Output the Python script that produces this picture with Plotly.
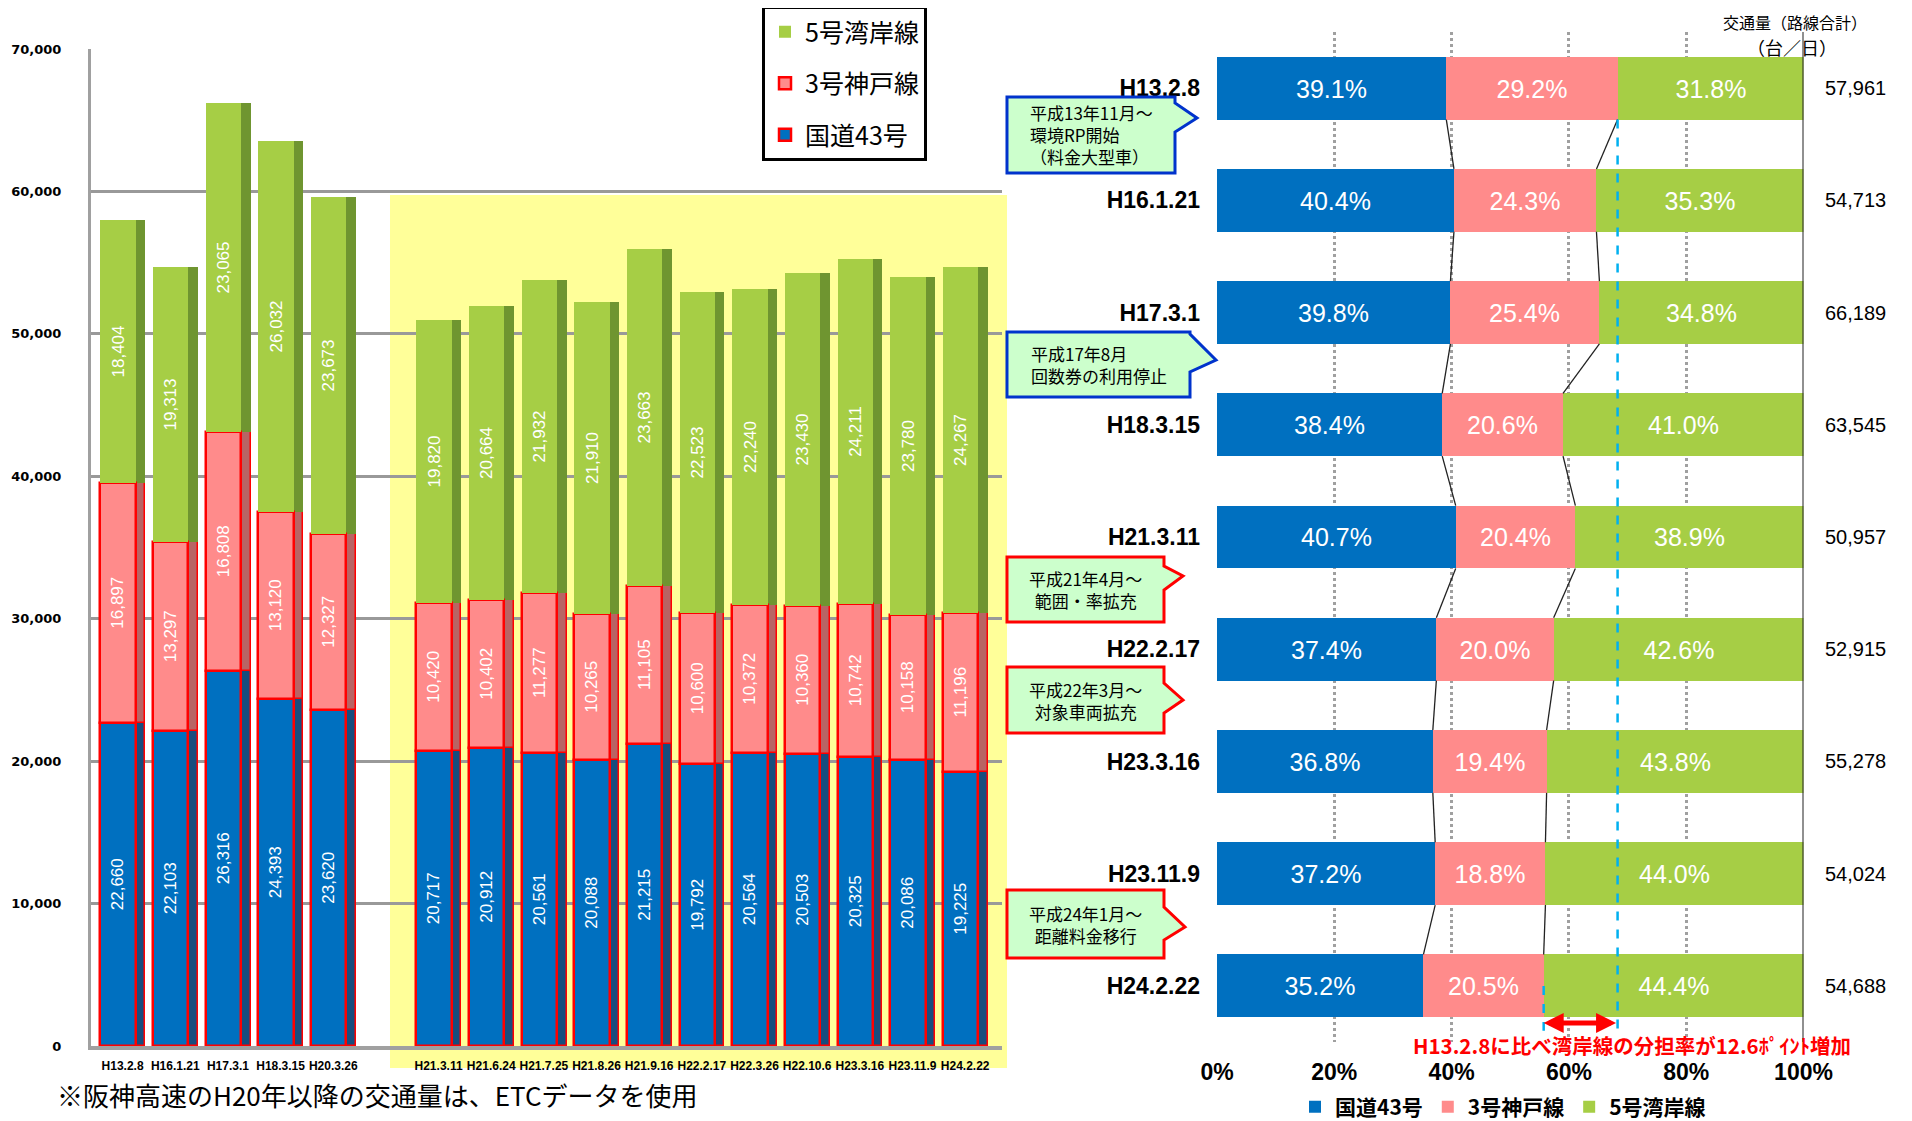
import numpy as np
import plotly.graph_objects as go

# page offset: the browser page has an 8px body margin
OFF = 8
W, H = 1904, 1112
def PX(x): return (x - OFF) / W
def PY(y): return 1 - (y - OFF) / H

# ---------------- data: left chart (台/日) ----------------
dates_left = ["H13.2.8", "H16.1.21", "H17.3.1", "H18.3.15", "H20.3.26",
              "H21.3.11", "H21.6.24", "H21.7.25", "H21.8.26", "H21.9.16",
              "H22.2.17", "H22.3.26", "H22.10.6", "H23.3.16", "H23.11.9", "H24.2.22"]
route43 = [22660, 22103, 26316, 24393, 23620,
           20717, 20912, 20561, 20088, 21215, 19792, 20564, 20503, 20325, 20086, 19225]
kobe3 = [16897, 13297, 16808, 13120, 12327,
         10420, 10402, 11277, 10265, 11105, 10600, 10372, 10360, 10742, 10158, 11196]
wangan5 = [18404, 19313, 23065, 26032, 23673,
           19820, 20664, 21932, 21910, 23663, 22523, 22240, 23430, 24211, 23780, 24267]
y_ticks_left = [0, 10000, 20000, 30000, 40000, 50000, 60000, 70000]

# ---------------- data: right chart (分担率 %) ----------------
dates_right = ["H13.2.8", "H16.1.21", "H17.3.1", "H18.3.15", "H21.3.11",
               "H22.2.17", "H23.3.16", "H23.11.9", "H24.2.22"]
share43 = [39.1, 40.4, 39.8, 38.4, 40.7, 37.4, 36.8, 37.2, 35.2]
share3 = [29.2, 24.3, 25.4, 20.6, 20.4, 20.0, 19.4, 18.8, 20.5]
share5 = [31.8, 35.3, 34.8, 41.0, 38.9, 42.6, 43.8, 44.0, 44.4]
totals = [57961, 54713, 66189, 63545, 50957, 52915, 55278, 54024, 54688]
x_ticks_right = [0, 20, 40, 60, 80, 100]

names = ["国道43号", "3号神戸線", "5号湾岸線"]
c_blue, c_pink, c_green = "#0070C0", "#FF8B8B", "#A6CE45"
s_blue, s_pink, s_green = "#174D7E", "#B86464", "#6F9530"

fig = go.Figure()

# ---------------- left chart ----------------
n_pre = 5  # surveys before ETC data (H20 and earlier)
slots = [i + (1 if i >= n_pre else 0) for i in range(len(dates_left))]
lv = [np.array(route43), np.array(kobe3), np.array(wangan5)]
lbase = [np.zeros(len(route43)), lv[0], lv[0] + lv[1]]
lcols = [(c_blue, s_blue, "red"), (c_pink, s_pink, "red"), (c_green, s_green, None)]
narrow = "Liberation Sans Narrow, Arial Narrow, Liberation Sans, Arial"

for k in range(3):
    col, side, lc = lcols[k]
    fig.add_trace(go.Bar(
        x=slots, y=lv[k], base=lbase[k], offset=0.25, width=0.18,
        marker=dict(color=side, line=dict(color=lc or side, width=1.5 if lc else 0)),
        showlegend=False, hoverinfo="skip", xaxis="x", yaxis="y"))
for k in range(3):
    col, side, lc = lcols[k]
    fig.add_trace(go.Bar(
        x=slots, y=lv[k], base=lbase[k], offset=-0.42, width=0.67,
        name=names[k], legend="legend", legendgroup="L%d" % k, legendrank=3 - k,
        marker=dict(color=col, line=dict(color=lc or col, width=2.5 if lc else 0)),
        text=[f"{v:,}" for v in lv[k]], textposition="inside", insidetextanchor="middle",
        textangle=-90, constraintext="none",
        textfont=dict(color="white", size=17, family=narrow),
        xaxis="x", yaxis="y"))

# ---------------- right chart ----------------
rows = list(range(len(dates_right)))
rv = [np.array(share43), np.array(share3), np.array(share5)]
cum1 = rv[0]
cum2 = rv[0] + rv[1]
rbase = [np.zeros(len(rows)), cum1, cum2]
rcols = [c_blue, c_pink, c_green]
bw = 0.56
for k in range(3):
    fig.add_trace(go.Bar(
        y=rows, x=rv[k], base=rbase[k], orientation="h", width=bw,
        name=names[k], legend="legend2",
        marker=dict(color=rcols[k], line=dict(width=0)),
        text=[f"{v:.1f}%" for v in rv[k]], textposition="inside", insidetextanchor="middle",
        constraintext="none",
        textfont=dict(color="white", size=25, family="Liberation Sans, Arial"),
        xaxis="x2", yaxis="y2"))

# series lines between bars
for cum in (cum1, cum2):
    xs, ys = [], []
    for i in range(len(rows) - 1):
        xs += [cum[i], cum[i + 1], None]
        ys += [i + bw / 2, i + 1 - bw / 2, None]
    fig.add_trace(go.Scatter(x=xs, y=ys, mode="lines", line=dict(color="#222", width=1.3),
                             showlegend=False, hoverinfo="skip", xaxis="x2", yaxis="y2"))

# cyan dashed reference lines
last = len(rows) - 1
fig.add_trace(go.Scatter(x=[cum2[0], cum2[0]], y=[bw / 2, last + 0.4], mode="lines",
                         line=dict(color="#00B0F0", width=2.5, dash="dash"),
                         showlegend=False, hoverinfo="skip", xaxis="x2", yaxis="y2"))
fig.add_trace(go.Scatter(x=[cum2[last], cum2[last]], y=[last, last + 0.4], mode="lines",
                         line=dict(color="#00B0F0", width=2.5, dash="dash"),
                         showlegend=False, hoverinfo="skip", xaxis="x2", yaxis="y2"))

# ---------------- shapes ----------------
shapes = []
# yellow ETC region
shapes.append(dict(type="rect", xref="paper", yref="paper",
                   x0=PX(390), x1=PX(1007), y0=PY(1068), y1=PY(195),
                   fillcolor="#FFFF99", line=dict(width=0), layer="below"))
# 100% line
shapes.append(dict(type="line", xref="x2", yref="y2", x0=100, x1=100, y0=-0.5, y1=last + 0.5,
                   line=dict(color="#222", width=2)))

def callout(x0, y0, x1, y1, wa, tip, wb, color):
    pts = [(x0, y0), (x1, y0), (x1, wa), tip, (x1, wb), (x1, y1), (x0, y1)]
    path = "M " + " L ".join(f"{PX(a):.5f},{PY(b):.5f}" for a, b in pts) + " Z"
    return dict(type="path", xref="paper", yref="paper", path=path,
                fillcolor="#CCFFCC", line=dict(color=color, width=3))

callouts = [
    (1007, 97, 1175, 173, 103, (1197, 118), 132, "#0033CC", "平成13年11月～<br>環境RP開始<br>（料金大型車）", "left"),
    (1007, 332, 1190, 397, 334, (1216, 360), 372, "#0033CC", "平成17年8月<br>回数券の利用停止", "left"),
    (1007, 557, 1164, 622, 566, (1183, 576), 590, "red", "平成21年4月～<br>範囲・率拡充", "center"),
    (1007, 667, 1164, 733, 683, (1183, 700), 713, "red", "平成22年3月～<br>対象車両拡充", "center"),
    (1007, 890, 1164, 958, 907, (1185, 927), 940, "red", "平成24年1月～<br>距離料金移行", "center"),
]
annotations = []
jp = "Noto Sans CJK JP, Noto Sans, sans-serif"
for (x0, y0, x1, y1, wa, tip, wb, col, txt, al) in callouts:
    shapes.append(callout(x0, y0, x1, y1, wa, tip, wb, col))
    annotations.append(dict(xref="paper", yref="paper", x=PX((x0 + x1) / 2), y=PY((y0 + y1) / 2),
                            text=txt, showarrow=False, align=al, xanchor="center", yanchor="middle",
                            font=dict(family=jp, size=17, color="black")))

# totals on the right
for i, t in enumerate(totals):
    annotations.append(dict(xref="paper", yref="y2", x=PX(1855), y=i, text=f"{t:,}",
                            showarrow=False, xanchor="center", yanchor="middle",
                            font=dict(family="Liberation Sans, Arial", size=20, color="black")))

# header
annotations.append(dict(xref="paper", yref="paper", x=PX(1795), y=PY(22), text="交通量（路線合計）",
                        showarrow=False, xanchor="center", yanchor="middle",
                        font=dict(family=jp, size=16, color="black")))
annotations.append(dict(xref="paper", yref="paper", x=PX(1792), y=PY(47), text="（台／日）",
                        showarrow=False, xanchor="center", yanchor="middle",
                        font=dict(family=jp, size=18, color="black")))
# footnote
annotations.append(dict(xref="paper", yref="paper", x=PX(55), y=PY(1094),
                        text="※阪神高速のH20年以降の交通量は、ETCデータを使用",
                        showarrow=False, xanchor="left", yanchor="middle",
                        font=dict(family=jp, size=26, color="black")))
# red note + double arrow
annotations.append(dict(xref="paper", yref="paper", x=PX(1632), y=PY(1045),
                        text="H13.2.8に比べ湾岸線の分担率が12.6ﾎﾟｲﾝﾄ増加",
                        showarrow=False, xanchor="center", yanchor="middle",
                        font=dict(family=jp, size=20.5, color="red", weight="bold")))
annotations.append(dict(xref="x2", yref="y2", axref="x2", ayref="y2",
                        x=cum2[last], y=last + 0.33, ax=cum2[0], ay=last + 0.33, text="",
                        showarrow=True, arrowside="end+start", arrowhead=2, arrowsize=0.8,
                        arrowwidth=5, arrowcolor="red"))

bold = dict(family="Liberation Sans, Arial", color="black", weight="bold")

fig.update_layout(
    width=W, height=H, margin=dict(l=0, r=0, t=0, b=0, autoexpand=False),
    paper_bgcolor="white", plot_bgcolor="rgba(0,0,0,0)",
    barmode="overlay", bargap=0,
    shapes=shapes, annotations=annotations,
    xaxis=dict(domain=[PX(91), PX(1002)], range=[-0.6, 16.7], anchor="y",
               tickvals=slots, ticktext=dates_left, ticks="", ticklabelstandoff=6,
               tickfont=dict(size=12, **bold), showgrid=False, zeroline=False,
               showline=True, linecolor="#A0A0A0", linewidth=4, automargin=False),
    yaxis=dict(domain=[PY(1046), PY(49)], range=[0, 70000], anchor="x",
               tickvals=y_ticks_left, tickformat=",", ticks="", ticklabelstandoff=24,
               tickfont=dict(size=13, family="DejaVu Sans, Liberation Sans", color="black", weight="bold"),
               showgrid=True, gridcolor="#999999", gridwidth=3,
               zeroline=False, showline=True, linecolor="#A0A0A0", linewidth=3, automargin=False),
    xaxis2=dict(domain=[PX(1217), PX(1803.5)], range=[0, 100], anchor="y2",
                tickvals=x_ticks_right, ticktext=[f"{v}%" for v in x_ticks_right], ticks="",
                ticklabelstandoff=14, tickfont=dict(size=23, **bold),
                showgrid=True, gridcolor="#A0A0A0", gridwidth=3, griddash="dot",
                zeroline=False, showline=False, automargin=False),
    yaxis2=dict(domain=[PY(1042), PY(32)], range=[last + 0.5, -0.5], anchor="x2",
                tickvals=rows, ticktext=dates_right, ticks="", ticklabelstandoff=16,
                tickfont=dict(size=23, **bold), showgrid=False, zeroline=False, showline=False,
                automargin=False),
    legend=dict(x=PX(762), y=PY(6), xanchor="left", yanchor="top",
                bgcolor="white", bordercolor="black", borderwidth=3,
                font=dict(family=jp, size=25, color="black"),
                traceorder="grouped", tracegroupgap=16, itemwidth=30),
    legend2=dict(x=PX(1503), y=PY(1107), xanchor="center", yanchor="middle",
                 orientation="h", bgcolor="rgba(0,0,0,0)",
                 font=dict(family=jp, size=21, color="black", weight="bold"),
                 traceorder="normal", itemwidth=30),
    showlegend=True,
)

fig.write_html("out.html")
